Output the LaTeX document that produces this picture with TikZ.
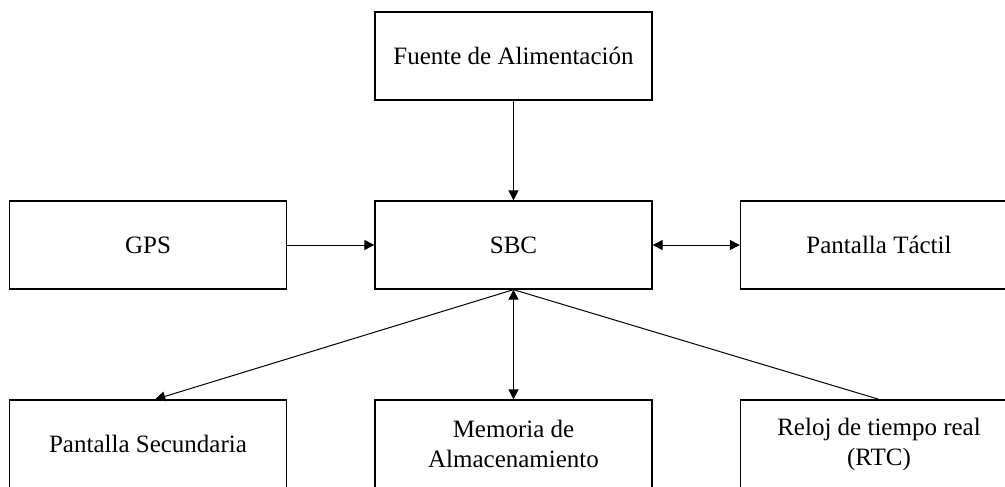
\documentclass[tikz,border=0pt]{standalone}
\usepackage{fontspec}
\setmainfont{Liberation Serif}
\usetikzlibrary{arrows.meta,calc}
\tikzset{
  block/.style={draw, line width=1.3pt, minimum width=277pt, minimum height=88pt,
    inner sep=0pt, align=center, font=\fontsize{25}{30}\selectfont},
  link/.style={line width=1pt},
  tip/.style={-{Triangle[length=10pt,width=10pt]}},
  tips/.style={{Triangle[length=10pt,width=10pt]}-{Triangle[length=10pt,width=10pt]}}
}
\begin{document}
\begin{tikzpicture}[x=1pt,y=-1pt]
  \useasboundingbox (0,0) rectangle (1005,487);
  \clip (0,0) rectangle (1005,487);
  % top row
  \node[block] (psu) at (513.5,56) {Fuente de Alimentación};
  % middle row
  \node[block] (gps) at (148,245) {GPS};
  \node[block] (sbc) at (513.5,245) {SBC};
  \node[block] (touch) at (879,245) {Pantalla Táctil};
  % bottom row
  \node[block] (sec) at (148,444) {Pantalla Secundaria};
  \node[block] (mem) at (513.5,444) {Memoria de\\Almacenamiento};
  \node[block] (rtc) at (879,444) {Reloj de tiempo real\\(RTC)};
  % connections
  \draw[link,tip] (psu.south) -- (sbc.north);
  \draw[link,tip] (gps.east) -- (sbc.west);
  \draw[link,tips] (sbc.east) -- (touch.west);
  \draw[link,tip] (sbc.south) -- ($(sec.north west)!0.526!(sec.north east)$);
  \draw[link,tips] (sbc.south) -- (mem.north);
  \draw[link] (rtc.north) -- (sbc.south);
\end{tikzpicture}
\end{document}
